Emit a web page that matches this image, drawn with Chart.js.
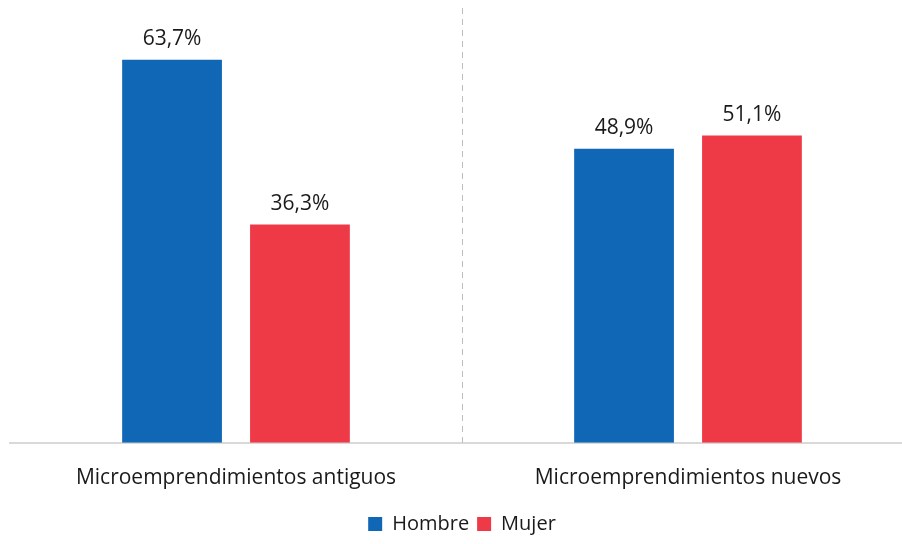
<!DOCTYPE html>
<html>
<head>
<meta charset="utf-8">
<script src="https://cdn.jsdelivr.net/npm/chart.js@4.4.0/dist/chart.umd.min.js"></script>
<style>
  html,body{margin:0;padding:0;background:#fff;overflow:hidden;}
  #wrap{width:916px;height:544px;}
</style>
</head>
<body>
<div id="wrap"><canvas id="c"></canvas></div>
<script>
/* ===== datos ===== */
const CATS   = ['Microemprendimientos antiguos', 'Microemprendimientos nuevos'];
const HOMBRE = [63.7, 48.9];
const MUJER  = [36.3, 51.1];
const SERIES = ['Hombre', 'Mujer'];
const COLS   = ['#0f67b5', '#ee3a47'];
const FONT   = 'Open Sans, sans-serif';

const fmtPct = v => v.toFixed(1).replace('.', ',') + '%';

// etiquetas encima de cada barra
const valLabels = {id:'valLabels', afterDatasetsDraw(c){
  const {ctx} = c;
  ctx.save(); ctx.font = `21px ${FONT}`; ctx.fillStyle = '#1a1a1a';
  ctx.textAlign = 'center'; ctx.textBaseline = 'bottom';
  c.data.datasets.forEach((ds, i) => {
    c.getDatasetMeta(i).data.forEach((b, j) => ctx.fillText(fmtPct(ds.data[j]), b.x, b.y - 10));
  });
  ctx.restore();
}};

// línea punteada entre categorías
const sep = {id:'sep', beforeDatasetsDraw(c){
  const {ctx, scales:{x}, chartArea:{bottom}} = c;
  const px = Math.round((x.getPixelForValue(0) + x.getPixelForValue(1)) / 2) + 0.5;
  ctx.save(); ctx.strokeStyle = '#bdbdbd'; ctx.lineWidth = 1; ctx.setLineDash([6, 5]);
  ctx.beginPath(); ctx.moveTo(px, 8); ctx.lineTo(px, bottom); ctx.stroke(); ctx.restore();
}};

new Chart(document.getElementById('c'), {
  type: 'bar',
  data: {
    labels: CATS,
    datasets: [
      {label: SERIES[0], data: HOMBRE, backgroundColor: COLS[0]},
      {label: SERIES[1], data: MUJER,  backgroundColor: COLS[1]}
    ]
  },
  options: {
    responsive: true, maintainAspectRatio: false, animation: false,
    layout: {padding: {top: 22, left: 10, right: 2, bottom: 0}},
    categoryPercentage: 0.566, barPercentage: 0.78,
    plugins: {
      legend: {position: 'bottom',
        labels: {font: {family: FONT, size: 20}, color: '#1a1a1a', boxWidth: 14, boxHeight: 14, padding: 8}},
      tooltip: {enabled: false}
    },
    scales: {
      x: {grid: {display: false}, border: {color: '#d9d9d9', width: 2},
          ticks: {font: {family: FONT, size: 21}, color: '#1a1a1a', padding: 15}},
      y: {display: false, min: 0, max: 70}
    }
  },
  plugins: [sep, valLabels]
});
</script>
</body>
</html>
